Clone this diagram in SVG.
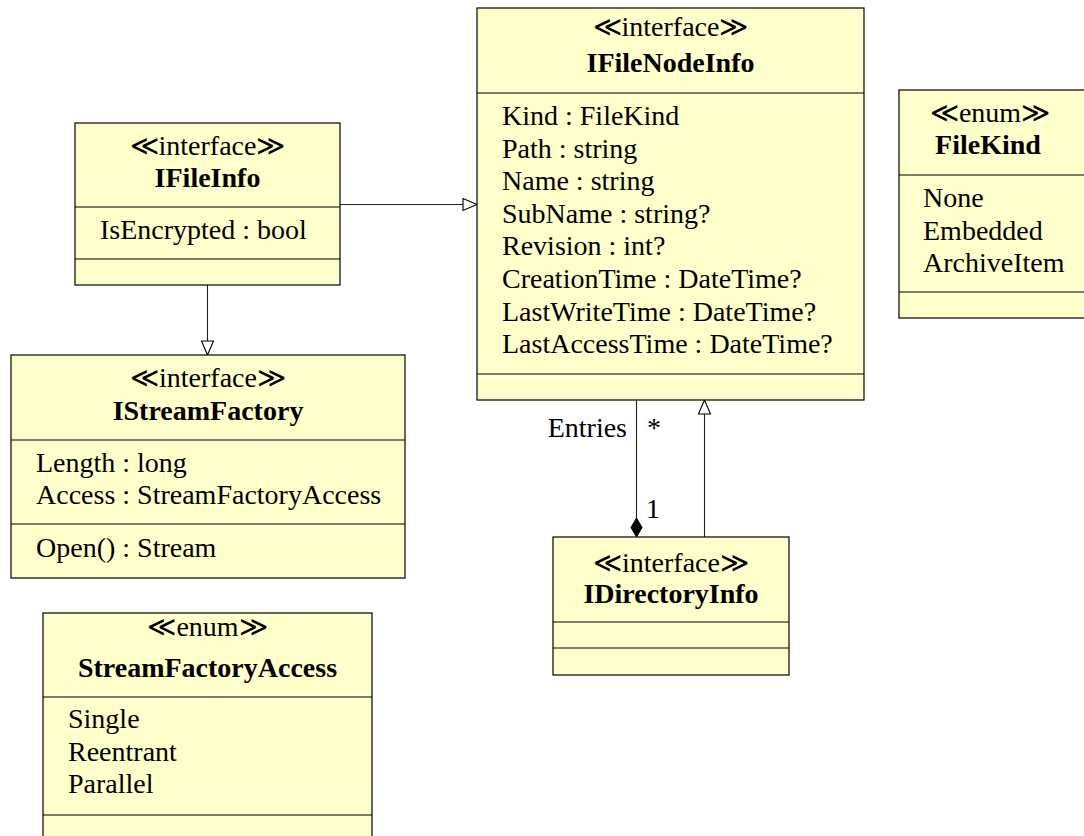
<svg xmlns="http://www.w3.org/2000/svg" width="1084" height="836" viewBox="0 0 1084 836">
  <style>
    .box { fill: #ffffcc; stroke: #000; stroke-width: 1.2; }
    .sep { stroke: #000; stroke-width: 1.2; }
    text { font-size: 28px; fill: #000; }
    .st { text-anchor: middle; }
    .name { text-anchor: middle; font-weight: bold; }
    .edge { fill: none; stroke: #222; stroke-width: 1.1; }
  </style>
  <defs>
    <marker id="realize" markerUnits="userSpaceOnUse" markerWidth="16" markerHeight="14" refX="14" refY="6" orient="auto" overflow="visible">
      <path d="M0,0 L14,6 L0,12 Z" fill="#fff" stroke="#000" stroke-width="1.1"/>
    </marker>
    <marker id="compose" markerUnits="userSpaceOnUse" markerWidth="20" markerHeight="12" refX="19" refY="5.5" orient="auto" overflow="visible">
      <path d="M0,5.5 L9.5,0 L19,5.5 L9.5,11 Z" fill="#000" stroke="#000" stroke-width="1"/>
    </marker>
  </defs>

  <g font-family="Liberation Serif, DejaVu Serif, serif">
  <!-- relations -->
  <g id="connectors">
    <path class="edge" d="M340,204.5 L477,204.5" marker-end="url(#realize)"/>
    <path class="edge" d="M207.5,285 L207.5,355" marker-end="url(#realize)"/>
    <path class="edge" d="M636.5,400 L636.5,537" marker-end="url(#compose)"/>
    <path class="edge" d="M704.5,537 L704.5,400" marker-end="url(#realize)"/>
    <text x="627" y="437" text-anchor="end">Entries</text>
    <text x="647" y="437">*</text>
    <text x="646" y="518">1</text>
  </g>

  <g id="IFileNodeInfo">
    <rect class="box" x="477" y="8" width="387" height="392"/>
    <line class="sep" x1="477" y1="93" x2="864" y2="93"/>
    <line class="sep" x1="477" y1="374" x2="864" y2="374"/>
    <text class="st" x="670.5" y="36">≪interface≫</text>
    <text class="name" x="670.5" y="71.5">IFileNodeInfo</text>
    <text x="502" y="125">Kind : FileKind</text>
    <text x="502" y="157.6">Path : string</text>
    <text x="502" y="190.2">Name : string</text>
    <text x="502" y="222.8">SubName : string?</text>
    <text x="502" y="255.4">Revision : int?</text>
    <text x="502" y="288">CreationTime : DateTime?</text>
    <text x="502" y="320.6">LastWriteTime : DateTime?</text>
    <text x="502" y="353.2">LastAccessTime : DateTime?</text>
  </g>

  <g id="IFileInfo">
    <rect class="box" x="75" y="123" width="265" height="162"/>
    <line class="sep" x1="75" y1="207" x2="340" y2="207"/>
    <line class="sep" x1="75" y1="259" x2="340" y2="259"/>
    <text class="st" x="207.5" y="155">≪interface≫</text>
    <text class="name" x="207.5" y="187">IFileInfo</text>
    <text x="100" y="239.3">IsEncrypted : bool</text>
  </g>

  <g id="FileKind">
    <rect class="box" x="899" y="90" width="200" height="228"/>
    <line class="sep" x1="899" y1="175" x2="1099" y2="175"/>
    <line class="sep" x1="899" y1="292" x2="1099" y2="292"/>
    <text class="st" x="990" y="122">≪enum≫</text>
    <text class="name" x="988" y="154">FileKind</text>
    <text x="923" y="207">None</text>
    <text x="923" y="239.6">Embedded</text>
    <text x="923" y="272.2">ArchiveItem</text>
  </g>

  <g id="IStreamFactory">
    <rect class="box" x="11" y="355" width="394" height="223"/>
    <line class="sep" x1="11" y1="440" x2="405" y2="440"/>
    <line class="sep" x1="11" y1="524" x2="405" y2="524"/>
    <text class="st" x="208" y="386.7">≪interface≫</text>
    <text class="name" x="208" y="420">IStreamFactory</text>
    <text x="36" y="471.7">Length : long</text>
    <text x="36" y="504.3">Access : StreamFactoryAccess</text>
    <text x="36" y="556.7">Open() : Stream</text>
  </g>

  <g id="IDirectoryInfo">
    <rect class="box" x="553" y="537" width="236" height="138"/>
    <line class="sep" x1="553" y1="622" x2="789" y2="622"/>
    <line class="sep" x1="553" y1="648" x2="789" y2="648"/>
    <text class="st" x="671" y="571.7">≪interface≫</text>
    <text class="name" x="671" y="603">IDirectoryInfo</text>
  </g>

  <g id="StreamFactoryAccess">
    <rect class="box" x="43" y="613" width="329" height="240"/>
    <line class="sep" x1="43" y1="697" x2="372" y2="697"/>
    <line class="sep" x1="43" y1="815" x2="372" y2="815"/>
    <text class="st" x="207.5" y="636">≪enum≫</text>
    <text class="name" x="207.5" y="676.7">StreamFactoryAccess</text>
    <text x="68" y="728">Single</text>
    <text x="68" y="760.6">Reentrant</text>
    <text x="68" y="793.2">Parallel</text>
  </g>
  </g>
</svg>
